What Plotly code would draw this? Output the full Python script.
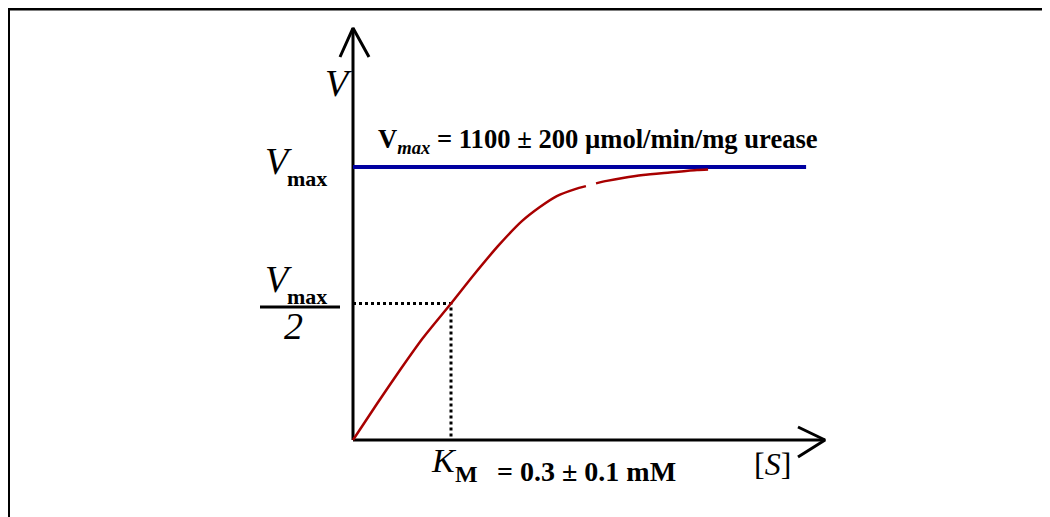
import plotly.graph_objects as go

# ---- data (S in mM, V in µmol/min/mg urease) ----
VMAX = 1100
KM = 0.3
S_curve = [0, 0.073, 0.144, 0.214, 0.300, 0.367, 0.447, 0.517, 0.572, 0.624, 0.680, 0.713,
           None, 0.744, 0.777, 0.826, 0.888, 0.970, 1.053, 1.087]
V_curve = [0, 145, 282, 411, 550, 661, 786, 882, 939, 983, 1011, 1023,
           None, 1034, 1044, 1056, 1068, 1078, 1088, 1090]
S_vmax_line = [0, 1.387]
S_axis_end = 1.445
V_axis_end = 1660

# ---- layout geometry (page pixel anchors; page has an 8px body margin) ----
OFF = 8
W, H = 1050 - OFF, 517 - OFF
X0PX, Y0PX = 353, 440          # page pixel of origin
SX = 326.67                    # px per mM
SY = 0.24818                   # px per µmol/min/mg
fx0, fy0 = X0PX - OFF, Y0PX - OFF
x_range = [-fx0 / SX, (W - fx0) / SX]
y_range = [-(H - fy0) / SY, fy0 / SY]


def dx(px):
    return (px - X0PX) / SX


def dy(py):
    return (Y0PX - py) / SY


fig = go.Figure()
BLACK = "#000000"

# axes with open arrowheads
fig.add_trace(go.Scatter(x=[0, 0], y=[0, V_axis_end], mode="lines",
                         line=dict(color=BLACK, width=3), hoverinfo="skip"))
fig.add_trace(go.Scatter(x=[dx(340), 0, dx(369)], y=[dy(57), V_axis_end, dy(57)], mode="lines",
                         line=dict(color=BLACK, width=3), hoverinfo="skip"))
fig.add_trace(go.Scatter(x=[0, S_axis_end], y=[0, 0], mode="lines",
                         line=dict(color=BLACK, width=3), hoverinfo="skip"))
fig.add_trace(go.Scatter(x=[dx(798), S_axis_end, dx(798)], y=[dy(427), 0, dy(457)], mode="lines",
                         line=dict(color=BLACK, width=3), hoverinfo="skip"))

# dotted guides to Km / Vmax/2
fig.add_trace(go.Scatter(x=[0, KM, KM], y=[VMAX / 2, VMAX / 2, 0], mode="lines",
                         line=dict(color=BLACK, width=3, dash="dot"), hoverinfo="skip"))

# Vmax line
fig.add_trace(go.Scatter(x=S_vmax_line, y=[VMAX, VMAX], mode="lines",
                         line=dict(color="#0000A0", width=4), hoverinfo="skip"))

# saturation curve
fig.add_trace(go.Scatter(x=S_curve, y=V_curve, mode="lines", connectgaps=False,
                         line=dict(color="#A80000", width=2.5, shape="spline", smoothing=0.6),
                         hoverinfo="skip"))

SERIF = "Liberation Serif, Times New Roman, serif"
ann = []


def txt(text, x, y, size, xanchor="center", yanchor="middle"):
    ann.append(dict(text=text, x=x, y=y, xref="x", yref="y", showarrow=False,
                    xanchor=xanchor, yanchor=yanchor, borderpad=0,
                    font=dict(family=SERIF, size=size, color=BLACK)))


# axis labels
txt("<i>V</i>", dx(338), dy(83), 38)
txt("[<i>S</i>]", dx(772), dy(464), 32)

# Vmax tick label
txt("<i>V</i>", dx(278), dy(161), 38)
txt("<b>max</b>", dx(307), dy(178), 22)

# Vmax/2 tick label
txt("<i>V</i>", dx(278), dy(279), 38)
txt("<b>max</b>", dx(307), dy(296), 22)
txt("<i>2</i>", dx(293), dy(326), 38)

# K_M label
txt("<i>K</i>", dx(444), dy(460), 34)
txt("<b>M</b>", dx(466), dy(474), 24)
txt("<b>= 0.3 ± 0.1 mM</b>", dx(496), dy(471), 28, xanchor="left")

# Vmax value
txt("<b>V<sub><i>max</i></sub> = 1100 ± 200 µmol/min/mg urease</b>", dx(377), dy(141), 26.6,
    xanchor="left")

shapes = [
    # fraction bar
    dict(type="line", x0=dx(260), x1=dx(340), y0=dy(307), y1=dy(307), xref="x", yref="y",
         line=dict(color=BLACK, width=3)),
    # frame (top and left)
    dict(type="line", x0=0, x1=1, y0=1 - 1 / H, y1=1 - 1 / H, xref="paper", yref="paper",
         line=dict(color=BLACK, width=3)),
    dict(type="line", x0=0.5 / W, x1=0.5 / W, y0=0, y1=1, xref="paper", yref="paper",
         line=dict(color=BLACK, width=3)),
]

fig.update_layout(
    width=W, height=H,
    margin=dict(l=0, r=0, t=0, b=0),
    paper_bgcolor="white", plot_bgcolor="white",
    showlegend=False,
    xaxis=dict(range=x_range, visible=False, fixedrange=True),
    yaxis=dict(range=y_range, visible=False, fixedrange=True),
    annotations=ann,
    shapes=shapes,
)

fig.write_html("out.html", config=dict(displayModeBar=False))
